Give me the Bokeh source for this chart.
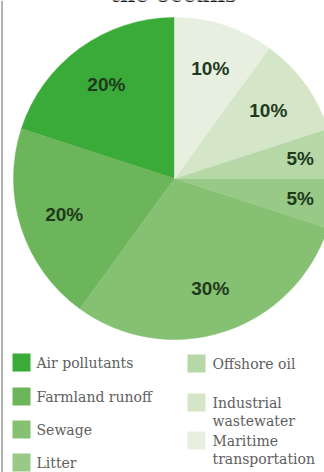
import math
from bokeh.plotting import figure
from bokeh.models import Range1d, ColumnDataSource
from bokeh.core.properties import value
from bokeh.embed import file_html
from bokeh.resources import INLINE

# ---- data ----
title = "the oceans"
categories = ["Air pollutants", "Farmland runoff", "Sewage", "Litter",
              "Offshore oil", "Industrial\nwastewater", "Maritime\ntransportation"]
shares = [20, 20, 30, 5, 5, 10, 10]
colors = ["#3aab38", "#6cb55b", "#86c072", "#98c987", "#b6d8a6", "#d4e5c8", "#e7efe0"]
pct_labels = [f"{s}%" for s in shares]

# ---- layout helpers (picture coordinates -> data) ----
W, H = 324, 472
def Y(py):
    return H - py

p = figure(width=W, height=H, output_backend="svg", toolbar_location=None,
           x_range=Range1d(0, W), y_range=Range1d(0, H),
           min_border=0, outline_line_color=None, background_fill_color="white")
p.axis.visible = False
p.grid.visible = False

# left frame line
p.segment(x0=[1.5], y0=[Y(0)], x1=[1.5], y1=[Y(H)], line_color="#9a9a9a", line_width=1.5)

# cut-off title at the very top (only its lower edge shows)
p.text(x=[173], y=[Y(-6)], text=[title], text_font=value("DejaVu Serif"),
       text_font_style="bold", text_font_size="21px", text_color="#1a1a1a",
       text_align="center", text_baseline="alphabetic")

# ---- pie ----
cx, cy, R = 174, Y(178), 161
total = sum(shares)
starts, ends, lx, ly = [], [], [], []
a = math.pi / 2
for s in shares:
    span = 2 * math.pi * s / total
    starts.append(a)
    ends.append(a + span)
    mid = a + span / 2
    rl = R * (0.79 if s <= 5 else 0.72)
    lx.append(cx + rl * math.cos(mid))
    ly.append(cy + rl * math.sin(mid))
    a += span

src = ColumnDataSource(dict(start=starts, end=ends, color=colors))
p.wedge(x=cx, y=cy, radius=R, start_angle="start", end_angle="end",
        fill_color="color", line_color="color", line_width=0.5, source=src)

p.text(x=lx, y=ly, text=pct_labels, text_font=value("Liberation Sans"),
       text_font_style="bold", text_font_size="19px", text_color="#1f3a1d",
       text_align="center", text_baseline="middle")

# ---- legend ----
left_rows = [362, 396, 429, 462]
right_rows = [363, 402, 440]
line_h = 18
sq_x, sq_y, tx, ty, tt = [], [], [], [], []
for i, name in enumerate(categories):
    if i < 4:
        xs, xt, yr = 21, 36, left_rows[i]
    else:
        xs, xt, yr = 196, 212, right_rows[i - 4]
    sq_x.append(xs)
    sq_y.append(Y(yr))
    for j, line in enumerate(name.split("\n")):
        tx.append(xt)
        ty.append(Y(yr + j * line_h))
        tt.append(line)

p.rect(x=sq_x, y=sq_y, width=18, height=18, fill_color=colors, line_color=None)
p.text(x=tx, y=ty, text=tt, text_font=value("DejaVu Serif"), text_font_size="14px",
       text_color="#5e5e5e", text_align="left", text_baseline="middle")

open("out.html", "w").write(file_html(p, INLINE))
